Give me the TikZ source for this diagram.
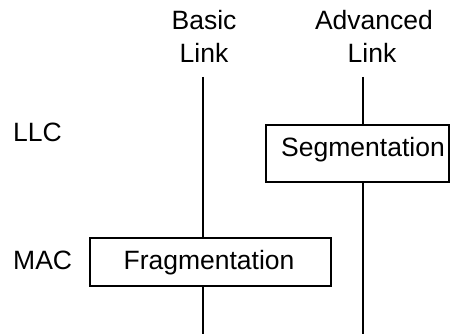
\documentclass[tikz,border=0pt]{standalone}
\usepackage{fontspec}
\setmainfont{Liberation Sans}
\begin{document}
\begin{tikzpicture}[x=1pt,y=1pt,
  lbl/.style={inner sep=0pt,anchor=base,font=\fontsize{26.5}{30}\selectfont},
  layer/.style={inner sep=0pt,anchor=base west,font=\fontsize{26.5}{30}\selectfont},
  funcbox/.style={draw,line width=2pt,fill=white,inner sep=0pt},
  link/.style={line width=2pt}]
\useasboundingbox (0,0) rectangle (451,334);
% column headings
\node[lbl] (basicA) at (204,304) {Basic};
\node[lbl] (basicB) at (204,271) {Link};
\node[lbl] (advA) at (374,304) {Advanced};
\node[lbl] (advB) at (372,271) {Link};
% layer labels
\node[layer] (llc) at (13,192) {LLC};
\node[layer] (mac) at (13,64) {MAC};
% line end points
\coordinate (btop) at (203,257);
\coordinate (bbot) at (203,0);
\coordinate (atop) at (363,257);
\coordinate (abot) at (363,0);
% boxes
\node[funcbox,minimum width=241pt,minimum height=48pt] (frag) at (210.5,72) {};
\node[lbl] (fragtxt) at (209,64) {Fragmentation};
\node[funcbox,minimum width=183pt,minimum height=57pt] (seg) at (357.5,180.5) {};
\node[lbl] (segtxt) at (363,177) {Segmentation};
% vertical links
\draw[link] (btop) -- (btop |- frag.north);
\draw[link] (bbot |- frag.south) -- (bbot);
\draw[link] (atop) -- (atop |- seg.north);
\draw[link] (abot |- seg.south) -- (abot);
\end{tikzpicture}
\end{document}
